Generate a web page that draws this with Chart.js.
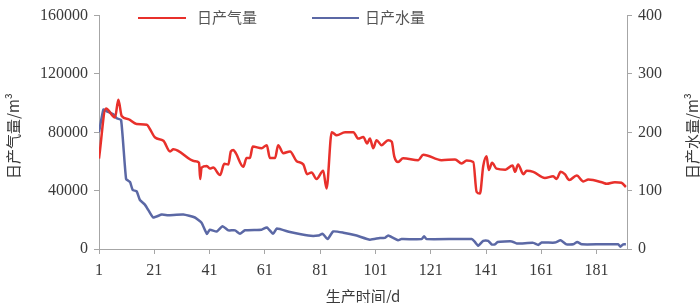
<!DOCTYPE html>
<html>
<head>
<meta charset="utf-8">
<script src="https://cdn.jsdelivr.net/npm/chart.js@4/dist/chart.umd.min.js"></script>
<style>
html,body{margin:0;padding:0;background:#fff;}
#wrap{width:700px;height:303px;position:relative;}
</style>
</head>
<body>
<div id="wrap"><canvas id="c" width="700" height="303"></canvas></div>
<script>
const xTicks = [1,21,41,61,81,101,121,141,161,181];
const gasTicks = [0,40000,80000,120000,160000];
const waterTicks = [0,100,200,300,400];
const gasLabel = '日产气量';
const waterLabel = '日产水量';
const gasTitle = '日产气量/m³';
const waterTitle = '日产水量/m³';
const xTitle = '生产时间/d';

const gasDays = [1,3.5,6.8,8,9.2,11.6,14.6,18.3,19.4,21.3,24.3,26.7,27.9,35.7,37.2,37.6,38.1,40,41.1,42.3,44.8,46.3,47.8,48.7,49.6,50.5,53.2,54.4,55.6,56.6,59.8,61.7,62.8,64.7,65.8,67.7,70.1,72.5,74.9,76.3,77.9,79.7,82.1,83.3,85.2,87,90,93,94.8,96.6,98,99,100.2,101.4,103.2,105.6,106.9,107.8,109.2,111,116.5,118.3,124.9,129.8,132.2,134,136.4,137.6,138.8,140,141.2,142,143.2,144.8,148,150.6,151.5,152.6,154.5,155.7,158.1,162.3,165.3,166.5,168,169.5,171.1,173.8,176.2,178,183.4,184.6,187.6,190,191.6];
const gasValues = [62000,96300,90100,102300,91200,89000,85700,85200,82300,76400,74200,66900,68400,60200,59100,48000,55800,56900,55100,55800,50700,58400,58000,66900,67900,65700,56400,62400,62400,70200,69100,71200,62400,62400,71200,65700,66900,60200,58000,51300,52500,48000,53600,41400,80100,77900,80100,80100,75700,76800,72400,75700,69100,74600,71200,74600,73500,63500,59600,62200,60900,64600,60900,61300,58600,60600,59600,39200,38000,56900,63500,54200,59100,55100,54400,57300,52900,58000,51300,53600,52900,48700,49800,48000,52900,51300,47300,50300,46300,47600,45400,44700,45800,45400,42500];

const waterDays = [1,2.6,3.8,6.2,7.4,9,10.8,12.2,13.2,14.6,15.8,17.6,18.8,20.6,23.7,26,31.5,35.7,38.1,40,41.1,43.6,45.7,47.8,50.2,52,53.8,59.8,61.7,64,65.3,70.1,76.7,80.3,81.9,83.7,85.7,89.4,94.2,99,102.6,104.4,105.6,107.4,109.2,110.4,117.7,118.6,119.5,135.8,137,138.2,140,141.8,143,144.2,145.2,150.3,152.1,158.1,159.9,161.1,165.9,168,170.1,172.5,174,175.6,182.2,188.8,189.6,190.6,191.6];
const waterValues = [200,239,236,231,224,221,120,115,101,99,84,76,67,54,59,58,59,54,45,26,33,30,39,32,32,26,32,33,37,26,35,29,23,23,26,17,30,28,23,16,19,19,23,19,15,17,17,22,17,17,12,5.5,14,14,8,8,12,13,9.5,10.5,7,11,11,15,8,8,12,8,8,8,4,8,8];

const RED = '#e8302b';
const BLUE = '#5b68a5';
const AXIS = '#a6a6a6';
const TXT = '#3a3a3a';
const numFont = {family: '"Liberation Serif", "DejaVu Serif", serif', size: 16};
const cjkFamily = '"Noto Sans CJK SC", sans-serif';

const overlay = {
  id: 'overlay',
  afterDraw(chart) {
    const ctx = chart.ctx;
    ctx.save();
    ctx.lineWidth = 2;
    ctx.strokeStyle = RED;
    ctx.beginPath(); ctx.moveTo(138, 18); ctx.lineTo(186, 18); ctx.stroke();
    ctx.strokeStyle = BLUE;
    ctx.beginPath(); ctx.moveTo(312, 18); ctx.lineTo(359, 18); ctx.stroke();
    ctx.fillStyle = '#555';
    ctx.font = '15px ' + cjkFamily;
    ctx.textBaseline = 'middle';
    ctx.textAlign = 'left';
    ctx.fillText(gasLabel, 197, 17);
    ctx.fillText(waterLabel, 365, 17);
    ctx.fillStyle = TXT;
    ctx.textAlign = 'center';
    ctx.font = '15px ' + cjkFamily;
    ctx.save();
    ctx.translate(13, 136); ctx.rotate(-Math.PI/2);
    ctx.fillText(gasTitle, 0, 0);
    ctx.restore();
    ctx.save();
    ctx.translate(692, 136); ctx.rotate(-Math.PI/2);
    ctx.fillText(waterTitle, 0, 0);
    ctx.restore();
    ctx.restore();
  }
};

new Chart(document.getElementById('c'), {
  type: 'line',
  data: {
    datasets: [
      {
        label: gasLabel,
        data: gasDays.map((d, i) => ({x: d, y: gasValues[i]})),
        borderColor: RED, backgroundColor: RED,
        borderWidth: 2.5, pointRadius: 0,
        cubicInterpolationMode: 'monotone',
        yAxisID: 'yGas'
      },
      {
        label: waterLabel,
        data: waterDays.map((d, i) => ({x: d, y: waterValues[i]})),
        borderColor: BLUE, backgroundColor: BLUE,
        borderWidth: 2.5, pointRadius: 0,
        tension: 0.15,
        yAxisID: 'yWater'
      }
    ]
  },
  options: {
    responsive: false,
    animation: false,
    layout: {padding: {top: 8, left: 0, right: 0, bottom: 0}},
    plugins: {legend: {display: false}, tooltip: {enabled: false}},
    scales: {
      x: {
        type: 'linear', min: 1, max: 192,
        afterBuildTicks: s => { s.ticks = xTicks.map(v => ({value: v})); },
        afterFit: s => { s.height = 54; },
        border: {display: true, color: AXIS, width: 1},
        grid: {display: true, drawOnChartArea: false, drawTicks: true, tickLength: 5, color: AXIS},
        ticks: {color: TXT, font: numFont, padding: 7, maxRotation: 0, autoSkip: false},
        title: {display: true, text: xTitle, color: TXT, font: {family: cjkFamily, size: 15}, padding: {top: 0, bottom: -2}}
      },
      yGas: {
        type: 'linear', position: 'left', min: 0, max: 160000,
        afterBuildTicks: s => { s.ticks = gasTicks.map(v => ({value: v})); },
        afterFit: s => { s.width = 99; },
        border: {display: true, color: AXIS, width: 1},
        grid: {display: true, drawOnChartArea: false, drawTicks: true, tickLength: 5, color: AXIS},
        ticks: {color: TXT, font: numFont, padding: 6, callback: v => String(v)}
      },
      yWater: {
        type: 'linear', position: 'right', min: 0, max: 400,
        afterBuildTicks: s => { s.ticks = waterTicks.map(v => ({value: v})); },
        afterFit: s => { s.width = 73; },
        border: {display: true, color: AXIS, width: 1},
        grid: {display: true, drawOnChartArea: false, drawTicks: true, tickLength: 5, color: AXIS},
        ticks: {color: TXT, font: numFont, padding: 6, callback: v => String(v)}
      }
    }
  },
  plugins: [overlay]
});
</script>
</body>
</html>
